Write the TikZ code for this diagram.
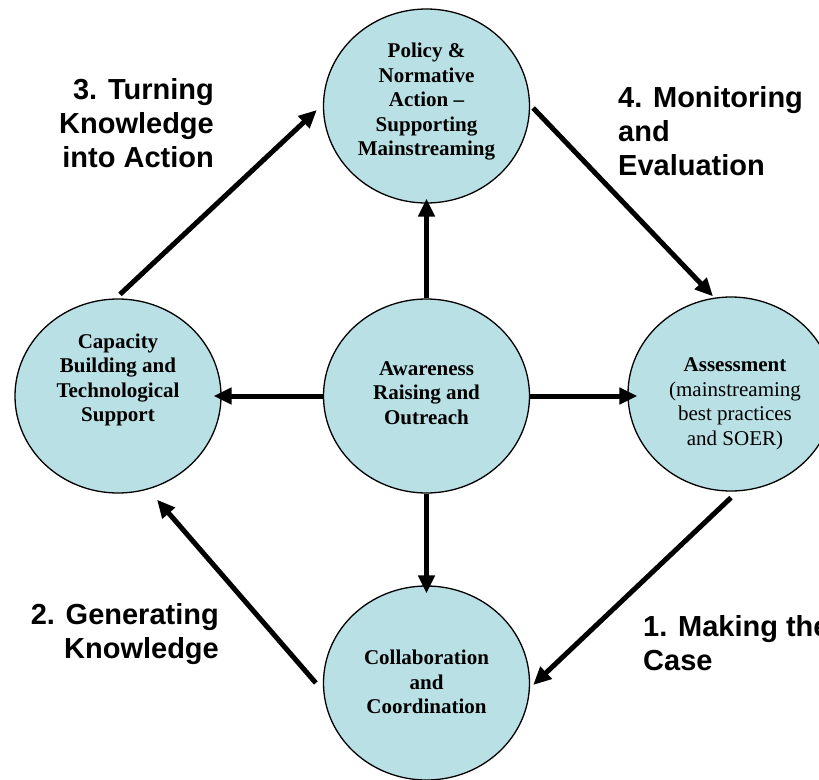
\documentclass[tikz,border=0pt]{standalone}
\usepackage{fontspec}
\setmainfont{Liberation Serif}
\newfontfamily\labelfont{Liberation Sans}
\usetikzlibrary{
    positioning,
    arrows.meta,
    shapes.geometric
}
\definecolor{circfill}{RGB}{185,224,228}

\begin{document}
\begin{tikzpicture}[
    x=1pt, y=-1pt,
    circ/.style={ellipse, draw, line width=1.3pt, fill=circfill, minimum width=206pt, minimum height=194pt, inner sep=0pt},
    circtext/.style={align=center, inner sep=0pt, font=\fontsize{21}{24.5}\selectfont},
    phase/.style={inner sep=0pt, font=\labelfont\bfseries\fontsize{29}{34}\selectfont},
    arrow/.style={-{Triangle[length=18pt, width=16pt]}, line width=5pt}
]
\useasboundingbox (0,0) rectangle (819,779);

% ================= CIRCLES =================
\node[circ] (pol) at (426.5,106) {};
\node[circ] (cap) at (118,396) {};
\node[circ] (mid) at (426.5,396) {};
\node[circ] (asm) at (731,394) {};
\node[circ] (col) at (426.5,683) {};

\node[circtext] (poltext) at (426.5,102) {\bfseries Policy \&\\ \bfseries Normative\\ \bfseries Action --\\ \bfseries Supporting\\ \bfseries Mainstreaming};
\node[circtext] (captext) at (118,380) {\bfseries Capacity\\ \bfseries Building and\\ \bfseries Technological\\ \bfseries Support};
\node[circtext] (midtext) at (426.5,393) {\bfseries Awareness\\ \bfseries Raising and\\ \bfseries Outreach};
\node[circtext] (asmtext) at (735,404) {\bfseries Assessment\\ (mainstreaming\\ best practices\\ and SOER)};
\node[circtext] (coltext) at (426.5,682) {\bfseries Collaboration\\ \bfseries and\\ \bfseries Coordination};

% ================= PHASE LABELS =================
\node[phase, align=right, anchor=east] (turn) at (214,123) {3. Turning\\ Knowledge\\ into Action};
\node[phase, align=left, anchor=west] (monitor) at (618,131) {4. Monitoring\\ and\\ Evaluation};
\node[phase, align=right, anchor=east] (generate) at (219,634) {2. Generating\\ Knowledge};
\node[phase, align=left, anchor=west] (making) at (643,643) {1. Making the\\ Case};

% ================= ARROWS =================
\draw[arrow] (mid.north) -- ([yshift=5pt]pol.south);
\draw[arrow] (mid.west) -- ([xshift=-8pt]cap.east |- mid.west);
\draw[arrow] (mid.east) -- ([xshift=10pt]asm.west |- mid.east);
\draw[arrow] (mid.south) -- ([yshift=-8pt]col.north);

% cycle round the outside
\draw[arrow] ([xshift=2pt, yshift=4pt]cap.north) -- ([xshift=-6pt, yshift=-4pt]pol.west);
\draw[arrow] ([xshift=3pt, yshift=-2pt]pol.east) -- ([xshift=-18pt]asm.north);
\draw[arrow] ([yshift=-6pt]asm.south) -- ([xshift=3pt, yshift=-2pt]col.east);
\draw[arrow] ([xshift=-7pt]col.west) -- ([xshift=39pt, yshift=-6pt]cap.south);

\end{tikzpicture}
\end{document}
